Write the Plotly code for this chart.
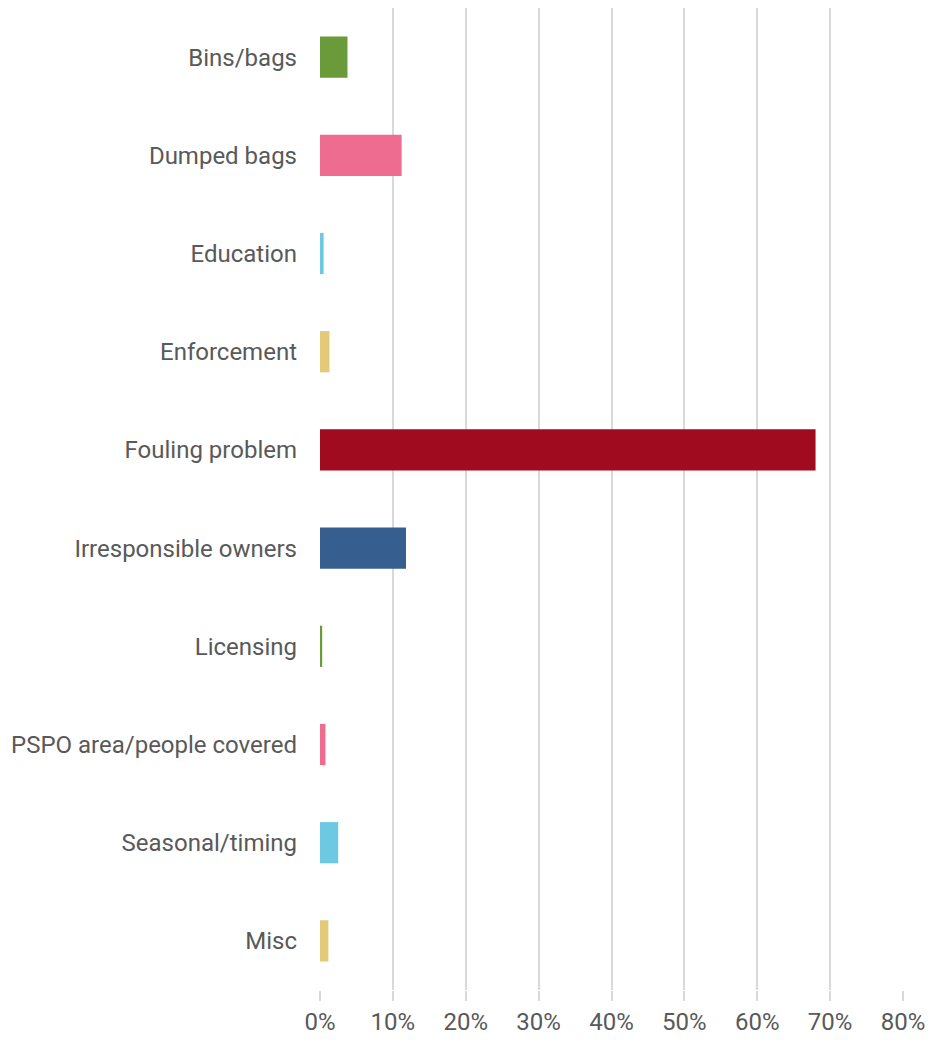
import plotly.graph_objects as go

categories = ["Bins/bags", "Dumped bags", "Education", "Enforcement", "Fouling problem",
              "Irresponsible owners", "Licensing", "PSPO area/people covered",
              "Seasonal/timing", "Misc"]
values = [0.0377, 0.112, 0.005, 0.013, 0.680, 0.118, 0.003, 0.0075, 0.025, 0.0115]
colors = ["#6A9A3A", "#EE6C90", "#6DC9E2", "#E2CA78", "#A00B1F",
          "#365F8F", "#6A9A3A", "#EE6C90", "#6DC9E2", "#E2CA78"]
tick_vals = [0, 0.1, 0.2, 0.3, 0.4, 0.5, 0.6, 0.7, 0.8]
tick_text = ["0%", "10%", "20%", "30%", "40%", "50%", "60%", "70%", "80%"]

fig = go.Figure(go.Bar(
    y=categories, x=values, orientation="h",
    marker=dict(color=colors, line=dict(width=0)),
    width=0.42,
))

fig.update_layout(
    width=930, height=1030,
    margin=dict(l=312, r=35, t=0, b=48),
    plot_bgcolor="white", paper_bgcolor="white",
    font=dict(family="Roboto", size=24, color="#595959"),
    showlegend=False,
)
fig.update_xaxes(
    range=[0, 0.8], tickvals=tick_vals, ticktext=tick_text,
    showgrid=True, gridcolor="#D9D9D9", gridwidth=2,
    zeroline=False, showline=False,
    ticks="outside", ticklen=10, tickcolor="#D9D9D9", tickwidth=2,
    tickfont=dict(size=24, color="#595959"),
)
fig.update_yaxes(
    autorange="reversed", showgrid=False, showline=False, zeroline=False,
    ticks="", ticklabelstandoff=22,
    tickfont=dict(size=24, color="#595959"),
)

fig.write_html("out.html")
